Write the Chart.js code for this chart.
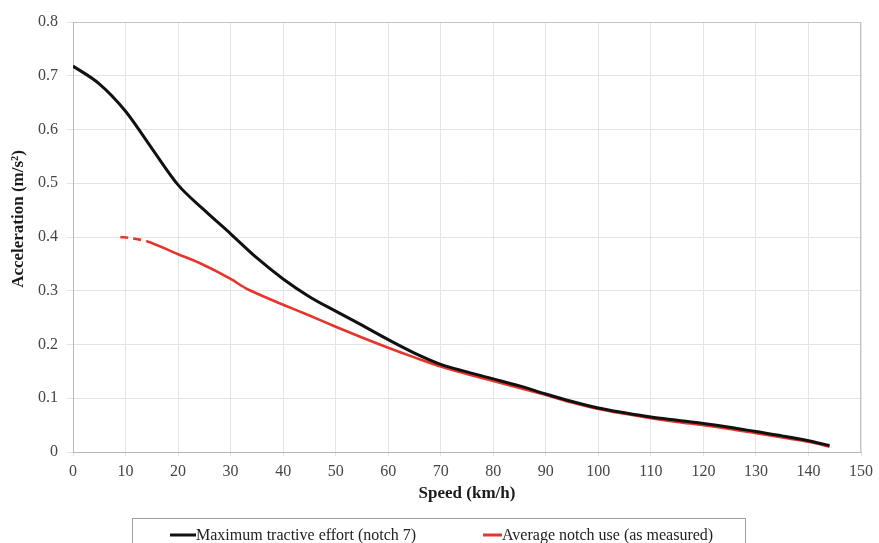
<!DOCTYPE html>
<html>
<head>
<meta charset="utf-8">
<script src="https://cdn.jsdelivr.net/npm/chart.js@4.4.1/dist/chart.umd.min.js"></script>
<style>
  html, body { margin: 0; padding: 0; background: #ffffff; }
  #wrap { width: 879px; height: 543px; position: relative; overflow: hidden; }
</style>
</head>
<body>
<div id="wrap"><canvas id="chart" width="879" height="543"></canvas></div>
<script>
// Acceleration vs speed: maximum tractive effort against average measured notch use
const speedMax = [0, 5, 10, 15, 20, 25, 30, 35, 40, 45, 50, 55, 60, 65, 70, 75, 80, 85, 90, 95, 100, 105, 110, 115, 120, 125, 130, 135, 140, 144];
const accelMax = [0.718, 0.685, 0.634, 0.565, 0.497, 0.450, 0.406, 0.361, 0.322, 0.289, 0.262, 0.236, 0.209, 0.184, 0.163, 0.149, 0.136, 0.123, 0.108, 0.094, 0.082, 0.073, 0.065, 0.059, 0.053, 0.046, 0.038, 0.030, 0.021, 0.012];

const speedAvg = [9, 11, 14, 20, 24, 30, 33, 35, 40, 45, 50, 55, 60, 65, 70, 75, 80, 85, 90, 95, 100, 105, 110, 115, 120, 125, 130, 135, 140, 144];
const accelAvg = [0.400, 0.398, 0.392, 0.368, 0.352, 0.322, 0.304, 0.295, 0.274, 0.254, 0.233, 0.213, 0.194, 0.176, 0.159, 0.145, 0.132, 0.119, 0.106, 0.092, 0.080, 0.071, 0.063, 0.056, 0.050, 0.043, 0.035, 0.027, 0.019, 0.010];

// speed below which the measured curve is only extrapolated (dashed)
const dashedUntil = 14;

const xTicks = [0, 10, 20, 30, 40, 50, 60, 70, 80, 90, 100, 110, 120, 130, 140, 150];
const yTicks = [0, 0.1, 0.2, 0.3, 0.4, 0.5, 0.6, 0.7, 0.8];

const seriesNames = ['Maximum tractive effort (notch 7)', 'Average notch use (as measured)'];
const xTitle = 'Speed (km/h)';
const yTitle = 'Acceleration (m/s²)';

const SERIF = '"Liberation Serif", "DejaVu Serif", serif';
const toPoints = (xs, ys) => xs.map((x, i) => ({ x: x, y: ys[i] }));

// Framed legend box under the axis title
const boxedLegend = {
  id: 'boxedLegend',
  afterDraw(chart) {
    const ctx = chart.ctx;
    ctx.save();
    ctx.strokeStyle = '#a0a0a0';
    ctx.lineWidth = 1;
    ctx.strokeRect(132.5, 518.5, 613, 40);
    const items = [
      { lineX: 170, lineW: 26 },
      { lineX: 483, lineW: 19 }
    ];
    ctx.font = '16px ' + SERIF;
    ctx.textBaseline = 'middle';
    ctx.textAlign = 'left';
    chart.data.datasets.forEach((ds, i) => {
      const it = items[i];
      const y = 535;
      ctx.strokeStyle = ds.borderColor;
      ctx.lineWidth = 3;
      ctx.beginPath();
      ctx.moveTo(it.lineX, y);
      ctx.lineTo(it.lineX + it.lineW, y);
      ctx.stroke();
      ctx.fillStyle = '#222222';
      ctx.fillText(ds.label, it.lineX + it.lineW, y + 1);
    });
    ctx.restore();
  }
};

// Vertical axis title, set a little above the middle of the plot
const yAxisTitle = {
  id: 'yAxisTitle',
  afterDraw(chart) {
    const ctx = chart.ctx;
    ctx.save();
    ctx.translate(19, 219);
    ctx.rotate(-Math.PI / 2);
    ctx.font = 'bold 17px ' + SERIF;
    ctx.fillStyle = '#1a1a1a';
    ctx.textAlign = 'center';
    ctx.textBaseline = 'middle';
    ctx.fillText(yTitle, 0, 0);
    ctx.restore();
  }
};

// Plot frame (top and right edges)
const plotFrame = {
  id: 'plotFrame',
  afterDatasetsDraw(chart) {
    const a = chart.chartArea;
    const ctx = chart.ctx;
    ctx.save();
    ctx.strokeStyle = '#c4c4c4';
    ctx.lineWidth = 1;
    ctx.beginPath();
    ctx.moveTo(Math.round(a.left) + 0.5, Math.round(a.top) + 0.5);
    ctx.lineTo(Math.round(a.right) - 0.5, Math.round(a.top) + 0.5);
    ctx.lineTo(Math.round(a.right) - 0.5, Math.round(a.bottom) + 0.5);
    ctx.stroke();
    ctx.restore();
  }
};

new Chart(document.getElementById('chart'), {
  type: 'line',
  data: {
    datasets: [
      {
        label: seriesNames[0],
        data: toPoints(speedMax, accelMax),
        borderColor: '#111111',
        backgroundColor: '#111111',
        borderWidth: 3,
        pointRadius: 0,
        cubicInterpolationMode: 'monotone',
        fill: false
      },
      {
        label: seriesNames[1],
        data: toPoints(speedAvg, accelAvg),
        borderColor: '#e8352b',
        backgroundColor: '#e8352b',
        borderWidth: 2.6,
        pointRadius: 0,
        cubicInterpolationMode: 'monotone',
        fill: false,
        segment: {
          borderDash: ctx => (ctx.p1.parsed.x <= dashedUntil ? [8, 5] : undefined)
        }
      }
    ]
  },
  options: {
    responsive: false,
    animation: false,
    devicePixelRatio: 1,
    layout: { padding: { top: 22, left: 0, right: 16, bottom: 0 } },
    plugins: {
      legend: { display: false },
      tooltip: { enabled: false }
    },
    scales: {
      x: {
        type: 'linear',
        min: 0,
        max: 150,
        afterBuildTicks: s => { s.ticks = xTicks.map(v => ({ value: v })); },
        afterFit: s => { s.height = 91; },
        grid: { color: '#e4e4e4', lineWidth: 1, tickLength: 4, drawOnChartArea: true },
        border: { color: '#b8b8b8', width: 1 },
        ticks: {
          color: '#464646',
          font: { family: SERIF, size: 16 },
          padding: 6,
          maxRotation: 0,
          autoSkip: false
        },
        title: {
          display: true,
          text: xTitle,
          color: '#1a1a1a',
          font: { family: SERIF, size: 17, weight: 'bold' },
          padding: { top: 0, bottom: 39 }
        }
      },
      y: {
        type: 'linear',
        min: 0,
        max: 0.8,
        afterBuildTicks: s => { s.ticks = yTicks.map(v => ({ value: v })); },
        afterFit: s => { s.width = 73; },
        grid: { color: '#e4e4e4', lineWidth: 1, tickLength: 6 },
        border: { color: '#b8b8b8', width: 1 },
        ticks: {
          color: '#464646',
          font: { family: SERIF, size: 16 },
          padding: 9,
          callback: v => (v === 0 ? '0' : Number(v).toFixed(1))
        },
        title: { display: false }
      }
    }
  },
  plugins: [plotFrame, yAxisTitle, boxedLegend]
});
</script>
</body>
</html>
